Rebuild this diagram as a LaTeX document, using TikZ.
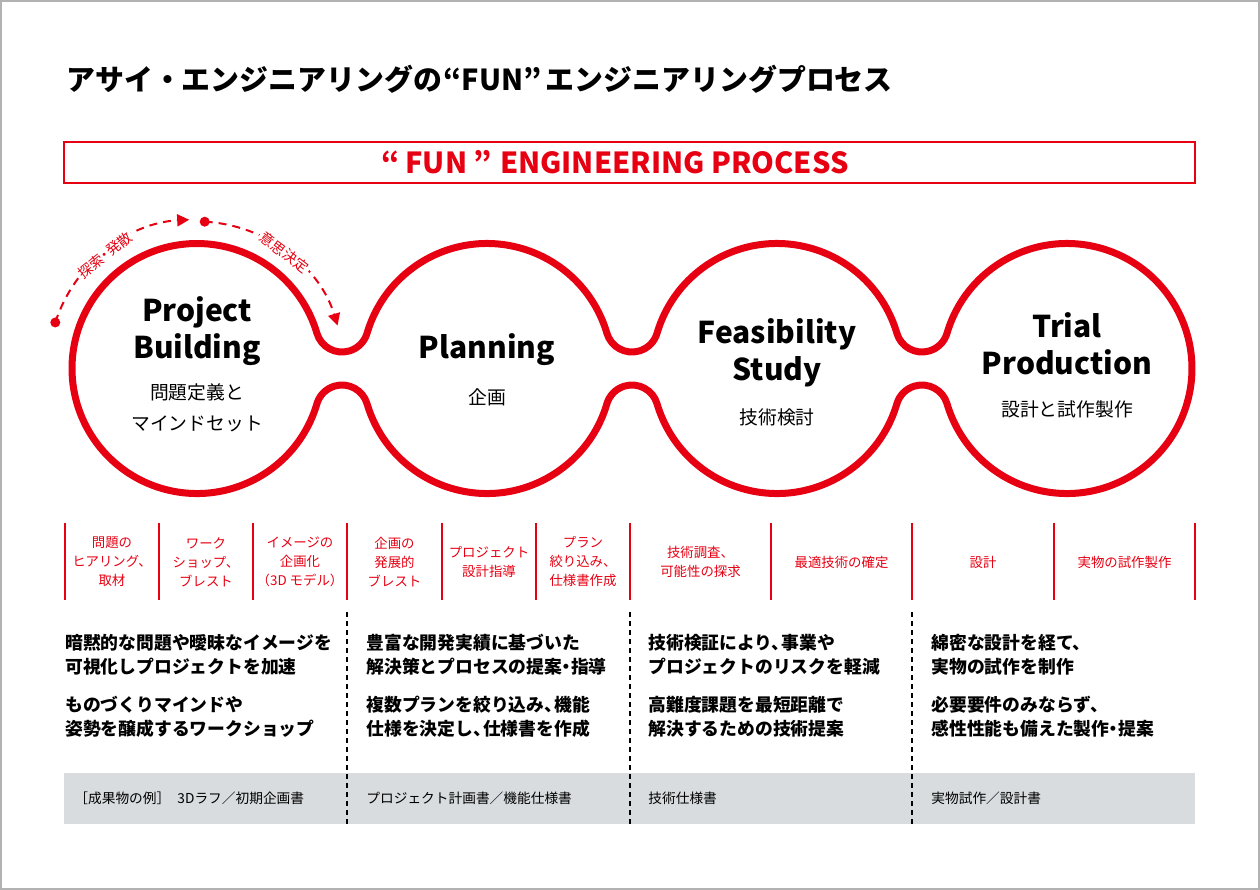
\documentclass[tikz,border=0pt]{standalone}
\usepackage{fontspec}
\setmainfont{Noto Sans CJK JP}
\usetikzlibrary{arrows.meta,calc}
\definecolor{funred}{RGB}{230,0,18}
\definecolor{bandgray}{RGB}{216,220,223}
\def\bigR{125}
\def\neckR{26.14}
\newcommand{\pdot}{\kern-0.25em・\kern-0.25em}
\newcommand{\pcomma}{、\kern-0.45em}
\tikzset{
  frame/.style={draw=black!30, line width=0.75pt},
  heading/.style={anchor=west, inner sep=0pt, font=\fontsize{14.45pt}{17pt}\selectfont\bfseries},
  banner/.style={draw=funred, line width=1.25pt, minimum width=565.5pt, minimum height=20.5pt, inner sep=0pt},
  bannertext/.style={text=funred, inner sep=0pt, font=\fontsize{14.5pt}{17pt}\selectfont\bfseries},
  blob/.style={draw=funred, line width=3.5pt},
  phase/.style={align=center, inner sep=0pt, font=\fontsize{15pt}{18.5pt}\selectfont\bfseries},
  phasesub/.style={align=center, inner sep=0pt, font=\fontsize{9.4pt}{15.5pt}\selectfont},
  flow/.style={draw=funred, line width=1pt, dash pattern=on 4pt off 3pt},
  flowtip/.style={-{Triangle[length=6pt,width=6pt]}},
  flowlabel/.style={text=funred, fill=white, inner sep=1pt, font=\fontsize{7.1pt}{8pt}\selectfont},
  tick/.style={draw=funred, line width=0.75pt},
  task/.style={text=funred, align=center, inner sep=0pt, font=\fontsize{6.7pt}{9.5pt}\selectfont},
  body/.style={anchor=west, align=left, inner sep=0pt, font=\fontsize{8.9pt}{12pt}\selectfont\bfseries},
  output/.style={anchor=west, inner sep=0pt, font=\fontsize{6.85pt}{8pt}\selectfont},
  divider/.style={draw=black, line width=0.6pt, dash pattern=on 2.5pt off 2pt},
}

\begin{document}
\begin{tikzpicture}[x=0.5pt,y=-0.5pt]
\useasboundingbox (0,0) rectangle (1260,890);
\draw[frame] (1,1) rectangle (1259,889);
% heading and banner
\node[heading] (title) at (66,79) {アサイ・エンジニアリングの\kern0.05em“FUN”\kern0.15emエンジニアリングプロセス};
\node[banner] (banner) at (629.5,162.5) {};
\node[bannertext] (bannerlabel) at (615,162) {“\kern0.2emFUN\kern0.2em”\kern0.3emENGINEERING PROCESS};
% four phases
\coordinate (pb) at (197,368.5);
\coordinate (pl) at (487,368.5);
\coordinate (fs) at (777,368.5);
\coordinate (tp) at (1067,368.5);
\draw[blob] (72,368.5)
  arc (180:343.61:\bigR) arc (163.61:16.39:\neckR)
  arc (196.39:343.61:\bigR) arc (163.61:16.39:\neckR)
  arc (196.39:343.61:\bigR) arc (163.61:16.39:\neckR)
  arc (196.39:523.61:\bigR) arc (343.61:196.39:\neckR)
  arc (16.39:163.61:\bigR) arc (343.61:196.39:\neckR)
  arc (16.39:163.61:\bigR) arc (343.61:196.39:\neckR)
  arc (16.39:180:\bigR) -- cycle;
\node[phase] (pbname) at (197,331.5) {Project\\Building};
\node[phasesub] (pbsub) at (197,407.5) {問題定義と\\マインドセット};
\node[phase] (plname) at (487,350) {Planning};
\node[phasesub] (plsub) at (487,397) {企画};
\node[phase] (fsname) at (777,352.5) {Feasibility\\Study};
\node[phasesub] (fssub) at (777,417) {技術検討};
\node[phase] (tpname) at (1067,344) {Trial\\Production};
\node[phasesub] (tpsub) at (1067,409) {設計と試作製作};
% explore / decide arcs
\fill[funred] ($(pb)+(-162:149)$) circle (5);
\draw[flow,flowtip] ($(pb)+(-162:149)$) arc (-162:-93:149);
\fill[funred] ($(pb)+(-87:147)$) circle (5);
\draw[flow,flowtip] ($(pb)+(-87:147)$) arc (-87:-17:147);
\node[flowlabel,rotate=39] (explore) at ($(pb)+(-129:146)$) {探索\pdot{}発散};
\node[flowlabel,rotate=-37] (decide) at ($(pb)+(-53:145)$) {意思決定};
% task columns
\foreach \x in {65,159,253,347,442,536,630,771,912,1054,1195}
  \draw[tick] (\x,523) -- (\x,600);
\foreach \x/\txt [count=\i] in {
    112/{問題の\\ヒアリング、\\取材},
    206/{ワーク\\ショップ、\\ブレスト},
    300/{イメージの\\企画化\\（3D モデル）},
    394.5/{企画の\\発展的\\ブレスト},
    489/{プロジェクト\\設計指導},
    583/{プラン\\絞り込み、\\仕様書作成},
    700.5/{技術調査、\\可能性の探求},
    841.5/{最適技術の確定},
    983/{設計},
    1124.5/{実物の試作製作}}
  \node[task] (task\i) at (\x,562) {\txt};
% notes
\node[body] (pbnote1) at (65,655) {暗黙的な問題や曖昧なイメージを\\可視化しプロジェクトを加速};
\node[body] (pbnote2) at (65,717) {ものづくりマインドや\\姿勢を醸成するワークショップ};
\node[body] (plnote1) at (366,655) {豊富な開発実績に基づいた\\解決策とプロセスの提案\pdot{}指導};
\node[body] (plnote2) at (366,717) {複数プランを絞り込み\pcomma{}機能\\仕様を決定し\pcomma{}仕様書を作成};
\node[body] (fsnote1) at (648,655) {技術検証により\pcomma{}事業や\\プロジェクトのリスクを軽減};
\node[body] (fsnote2) at (648,717) {高難度課題を最短距離で\\解決するための技術提案};
\node[body] (tpnote1) at (931,655) {綿密な設計を経て、\\実物の試作を制作};
\node[body] (tpnote2) at (931,717) {必要要件のみならず、\\感性性能も備えた製作\pdot{}提案};
% deliverables
\fill[bandgray] (64,773) rectangle (1195,824);
\node[output] (pbout) at (74,798) {［成果物の例］\kern0.3em\ 3Dラフ／初期企画書};
\node[output] (plout) at (366,798) {プロジェクト計画書／機能仕様書};
\node[output] (fsout) at (648,798) {技術仕様書};
\node[output] (tpout) at (931,798) {実物試作／設計書};
\foreach \x in {347,630,912}
  \draw[divider] (\x,612) -- (\x,824);
\end{tikzpicture}
\end{document}
